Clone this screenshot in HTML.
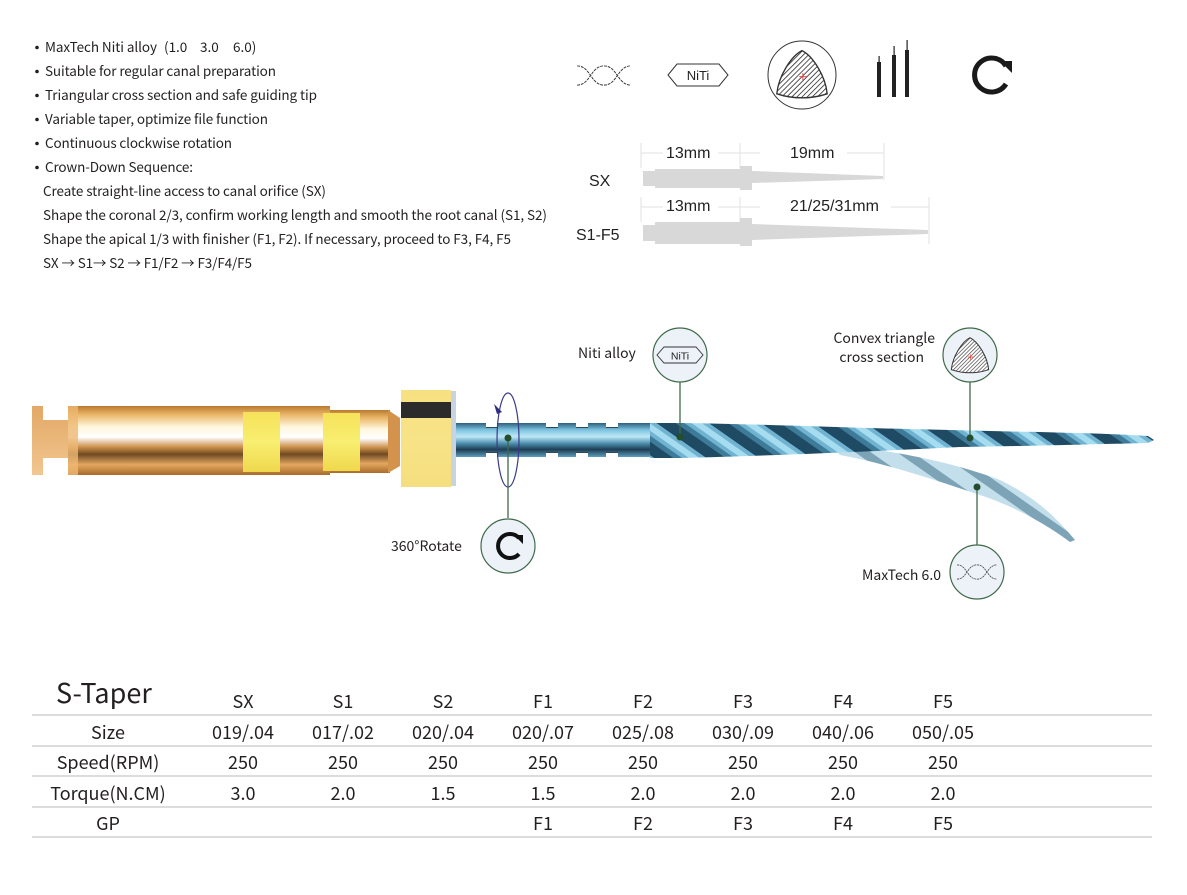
<!DOCTYPE html>
<html><head><meta charset="utf-8"><style>
html,body{margin:0;padding:0;background:#fff;}
svg{display:block;}
.t{font-family:"Liberation Sans","Noto Sans CJK SC",sans-serif;}
.n{font-family:"Noto Sans CJK SC","Liberation Sans",sans-serif;fill:#231f20;}
</style></head><body>
<svg width="1187" height="895" viewBox="0 0 1187 895" xmlns="http://www.w3.org/2000/svg">
<defs>
<linearGradient id="gold" x1="0" y1="0" x2="0" y2="1">
<stop offset="0" stop-color="#b87a30"/><stop offset="0.12" stop-color="#e9b565"/><stop offset="0.3" stop-color="#fff6dc"/><stop offset="0.45" stop-color="#ffffff"/><stop offset="0.6" stop-color="#c98d45"/><stop offset="0.7" stop-color="#6e4a22"/><stop offset="0.85" stop-color="#e3a760"/><stop offset="1" stop-color="#a86c2a"/>
</linearGradient>
<linearGradient id="goldl" x1="0" y1="0" x2="0" y2="1">
<stop offset="0" stop-color="#e2a867"/><stop offset="1" stop-color="#f2c68e"/>
</linearGradient>
<linearGradient id="yel" x1="0" y1="0" x2="0" y2="1">
<stop offset="0" stop-color="#f5e25a"/><stop offset="0.5" stop-color="#f8ee70"/><stop offset="1" stop-color="#efd84d"/>
</linearGradient>
<linearGradient id="blue" x1="0" y1="0" x2="0" y2="1">
<stop offset="0" stop-color="#2c5f7c"/><stop offset="0.2" stop-color="#7cc2df"/><stop offset="0.4" stop-color="#bfe8f6"/><stop offset="0.6" stop-color="#4d8fae"/><stop offset="0.78" stop-color="#1d3d52"/><stop offset="1" stop-color="#5f9fbd"/>
</linearGradient>
<pattern id="str" width="30" height="40" patternUnits="userSpaceOnUse" patternTransform="rotate(-55)">
<rect width="30" height="40" fill="#6fb3d1"/><rect width="11" height="40" fill="#1f4a63"/><rect x="11" width="5" height="40" fill="#3d7b99"/><rect x="20" width="6" height="40" fill="#a6dcef"/>
</pattern>
<pattern id="str2" width="24" height="40" patternUnits="userSpaceOnUse" patternTransform="rotate(-55)">
<rect width="24" height="40" fill="#c3dfeb"/><rect width="9" height="40" fill="#7da3b6"/>
</pattern>
<pattern id="hatch" width="4" height="4" patternUnits="userSpaceOnUse" patternTransform="rotate(45)">
<rect width="4" height="4" fill="#fff"/><rect width="1" height="4" fill="#444"/>
</pattern>
<symbol id="wave" viewBox="0 0 56 24"><path d="M0,2 C14,2 14,22 28,22 C42,22 42,2 56,2 M0,22 C14,22 14,2 28,2 C42,2 42,22 56,22" fill="none" stroke="#333" stroke-width="1" stroke-dasharray="3,1"/></symbol>
<symbol id="tri" viewBox="0 0 60 60"><path d="M30,4 C42,10 56,32 58,52 C40,58 20,58 2,52 C4,32 18,10 30,4 Z" fill="url(#hatch)" stroke="#333" stroke-width="1.5"/><path d="M27,33 h8 M31,29 v8" stroke="#e33" stroke-width="1"/></symbol>
</defs>

<!-- bullet text -->
<g fill="#231f20"><circle cx="37" cy="47.5" r="1.8"/><circle cx="37" cy="71.5" r="1.8"/><circle cx="37" cy="95.5" r="1.8"/><circle cx="37" cy="119.5" r="1.8"/><circle cx="37" cy="143.5" r="1.8"/><circle cx="37" cy="167.5" r="1.8"/></g>
<g class="n" font-size="13.5">
<text x="45" y="52" textLength="112">MaxTech Niti alloy</text><text x="164" y="52">(1.0</text><text x="200" y="52">3.0</text><text x="233" y="52">6.0)</text>
<text x="45" y="76" textLength="231">Suitable for regular canal preparation</text>
<text x="45" y="100" textLength="272">Triangular cross section and safe guiding tip</text>
<text x="45" y="124" textLength="223">Variable taper, optimize file function</text>
<text x="45" y="148" textLength="187">Continuous clockwise rotation</text>
<text x="45" y="172" textLength="148">Crown-Down Sequence:</text>
<text x="43" y="196" textLength="283">Create straight-line access to canal orifice (SX)</text>
<text x="43" y="220" textLength="504">Shape the coronal 2/3, confirm working length and smooth the root canal (S1, S2)</text>
<text x="43" y="244" textLength="468">Shape the apical 1/3 with finisher (F1, F2). If necessary, proceed to F3, F4, F5</text>
<text x="43" y="268" textLength="209">SX → S1→ S2 → F1/F2 → F3/F4/F5</text>
</g>

<!-- top icons -->
<use href="#wave" x="577" y="64" width="54" height="23"/>
<path d="M668,75 L677,64 L719,64 L728,75 L719,86 L677,86 Z" fill="none" stroke="#333" stroke-width="1"/>
<text x="698" y="80" class="t" font-size="13" text-anchor="middle" fill="#222">NiTi</text>
<circle cx="802" cy="75" r="34" fill="none" stroke="#333" stroke-width="1"/>
<use href="#tri" x="775" y="47" width="54" height="54"/>
<rect x="877" y="62" width="4" height="35" fill="#222"/><rect x="878.5" y="56" width="1.2" height="8" fill="#222"/>
<rect x="892" y="55" width="4" height="42" fill="#222"/><rect x="893.5" y="46" width="1.2" height="10" fill="#222"/>
<rect x="905" y="50" width="4" height="47" fill="#222"/><rect x="906.5" y="40" width="1.2" height="11" fill="#222"/>
<path d="M1006,66 A17,17 0 1 0 1006,84" fill="none" stroke="#1a1a1a" stroke-width="5"/>
<path d="M1000,61 L1012,61 L1012,73 Z" fill="#1a1a1a"/>

<!-- dimension diagrams -->
<g stroke="#e2e2e2" stroke-width="1" fill="none">
<path d="M641,143 V168 M740,143 V168 M884,143 V180 M641,153 H663 M718,153 H760 M847,153 H884"/>
<path d="M641,197 V222 M740,197 V222 M929,197 V244 M641,207 H663 M718,207 H760 M891,207 H929"/>
</g>
<path d="M643,171 L655,171 L655,169 L740,169 L740,166 L752,166 L752,171 L883,176 L883,179 L752,183 L752,190 L740,190 L740,188 L655,188 L655,186 L643,186 Z" fill="#d8d8d8"/>
<path d="M643,225 L655,225 L655,222 L740,222 L740,218 L752,218 L752,224 L928,230 L928,234 L752,240 L752,246 L740,246 L740,244 L655,244 L655,241 L643,241 Z" fill="#d8d8d8"/>
<g class="t" fill="#222" font-size="16">
<text x="666" y="158">13mm</text><text x="790" y="158">19mm</text>
<text x="589" y="186">SX</text>
<text x="666" y="211">13mm</text><text x="790" y="211">21/25/31mm</text>
<text x="576" y="240">S1-F5</text>
</g>

<!-- handle -->
<path d="M32,406 H43 V420 H68 V406 H70 V475 H68 V458 H43 V475 H32 Z" fill="url(#goldl)"/>
<rect x="68" y="406" width="262" height="69" fill="url(#gold)"/>
<rect x="68" y="406" width="10" height="69" fill="#eeb873" opacity="0.8"/>
<rect x="330" y="410" width="60" height="63" fill="url(#gold)"/>
<path d="M388,410 L400,418 L400,466 L388,473 Z" fill="#d4934c"/>
<rect x="243" y="412" width="37" height="60" fill="url(#yel)"/>
<rect x="323" y="413" width="37" height="58" fill="url(#yel)"/>
<rect x="401" y="390" width="50" height="97" fill="#f7e08f"/>
<rect x="401" y="390" width="50" height="97" fill="url(#yel)" opacity="0.25"/>
<rect x="401" y="402" width="50" height="16" fill="#2b2b2b"/>
<rect x="451" y="391" width="5" height="95" fill="#c7d3e0"/>

<!-- shaft -->
<rect x="456" y="423" width="200" height="34" fill="url(#blue)"/>
<g fill="#2a4a5e">
<rect x="486" y="423" width="11" height="5"/><rect x="486" y="452" width="11" height="5"/>
<rect x="546" y="423" width="12" height="5"/><rect x="546" y="452" width="12" height="5"/>
<rect x="576" y="423" width="12" height="5"/><rect x="576" y="452" width="12" height="5"/>
<rect x="606" y="423" width="12" height="5"/><rect x="606" y="452" width="12" height="5"/>
</g>
<g fill="#fff"><rect x="486" y="421" width="11" height="6"/><rect x="486" y="453" width="11" height="6"/><rect x="546" y="421" width="12" height="6"/><rect x="546" y="453" width="12" height="6"/><rect x="576" y="421" width="12" height="6"/><rect x="576" y="453" width="12" height="6"/><rect x="606" y="421" width="12" height="6"/><rect x="606" y="453" width="12" height="6"/></g>

<!-- branch blade -->
<path d="M830,445 C900,450 960,465 1000,480 C1030,495 1050,510 1075,540 L1070,542 C1040,520 1010,505 980,495 C930,478 880,462 840,455 Z" fill="url(#str2)"/>
<!-- main blade -->
<path d="M650,423 L680,423 C760,424 850,428 950,430 C1030,432 1100,433 1148,436 L1154,440 L1148,443 C1100,444 1030,446 960,447 C860,452 760,456 680,458 L650,458 Z" fill="url(#str)"/>

<!-- rotation ellipse -->
<ellipse cx="508" cy="440" rx="11" ry="47" fill="none" stroke="#3a3a8a" stroke-width="1.2"/>
<path d="M494,404 L502,412 L497,414 Z" fill="#2e2e80"/>

<!-- callouts -->
<g stroke="#3f6a4a" stroke-width="1.3" fill="none">
<line x1="508" y1="438" x2="508" y2="518"/>
<line x1="680" y1="382" x2="680" y2="437"/>
<line x1="970" y1="382" x2="970" y2="438"/>
<line x1="977" y1="487" x2="977" y2="545"/>
</g>
<g fill="#244d2e"><circle cx="508" cy="438" r="3.5"/><circle cx="680" cy="437" r="3.5"/><circle cx="970" cy="438" r="3.5"/><circle cx="977" cy="487" r="3.5"/></g>
<g fill="#edf2f8" stroke="#3f6a4a" stroke-width="1.2">
<circle cx="508" cy="546" r="27"/><circle cx="680" cy="355" r="27"/><circle cx="970" cy="355" r="27"/><circle cx="977" cy="572" r="27"/>
</g>
<path d="M519,538 A12,12 0 1 0 519,554" fill="none" stroke="#111" stroke-width="4"/>
<path d="M514,535 L523,535 L523,544 Z" fill="#111"/>
<path d="M657,355 L664,347 L696,347 L703,355 L696,363 L664,363 Z" fill="none" stroke="#333" stroke-width="0.9"/>
<text x="680" y="359.5" class="t" font-size="10.5" text-anchor="middle" fill="#222">NiTi</text>
<use href="#tri" x="950" y="335" width="40" height="40"/>
<use href="#wave" x="957" y="563" width="40" height="18"/>

<g class="n" font-size="14">
<text x="578" y="358">Niti alloy</text>
<text x="935" y="343" text-anchor="end">Convex triangle</text>
<text x="924" y="362" text-anchor="end">cross section</text>
<text x="391" y="551">360°Rotate</text>
<text x="941" y="580" text-anchor="end">MaxTech 6.0</text>
</g>

<!-- table -->
<g stroke="#dcdcdc" stroke-width="2">
<line x1="32" y1="715" x2="1152" y2="715"/><line x1="32" y1="746" x2="1152" y2="746"/><line x1="32" y1="776" x2="1152" y2="776"/><line x1="32" y1="807" x2="1152" y2="807"/><line x1="32" y1="837" x2="1152" y2="837"/>
</g>
<g class="n" font-size="18" text-anchor="middle">
<text x="56" y="703" font-size="27" text-anchor="start">S-Taper</text>
<text x="243" y="708">SX</text><text x="343" y="708">S1</text><text x="443" y="708">S2</text><text x="543" y="708">F1</text><text x="643" y="708">F2</text><text x="743" y="708">F3</text><text x="843" y="708">F4</text><text x="943" y="708">F5</text>
<text x="108" y="739">Size</text><text x="243" y="739">019/.04</text><text x="343" y="739">017/.02</text><text x="443" y="739">020/.04</text><text x="543" y="739">020/.07</text><text x="643" y="739">025/.08</text><text x="743" y="739">030/.09</text><text x="843" y="739">040/.06</text><text x="943" y="739">050/.05</text>
<text x="108" y="769">Speed(RPM)</text><text x="243" y="769">250</text><text x="343" y="769">250</text><text x="443" y="769">250</text><text x="543" y="769">250</text><text x="643" y="769">250</text><text x="743" y="769">250</text><text x="843" y="769">250</text><text x="943" y="769">250</text>
<text x="108" y="800">Torque(N.CM)</text><text x="243" y="800">3.0</text><text x="343" y="800">2.0</text><text x="443" y="800">1.5</text><text x="543" y="800">1.5</text><text x="643" y="800">2.0</text><text x="743" y="800">2.0</text><text x="843" y="800">2.0</text><text x="943" y="800">2.0</text>
<text x="108" y="830">GP</text><text x="543" y="830">F1</text><text x="643" y="830">F2</text><text x="743" y="830">F3</text><text x="843" y="830">F4</text><text x="943" y="830">F5</text>
</g>
</svg>
</body></html>
